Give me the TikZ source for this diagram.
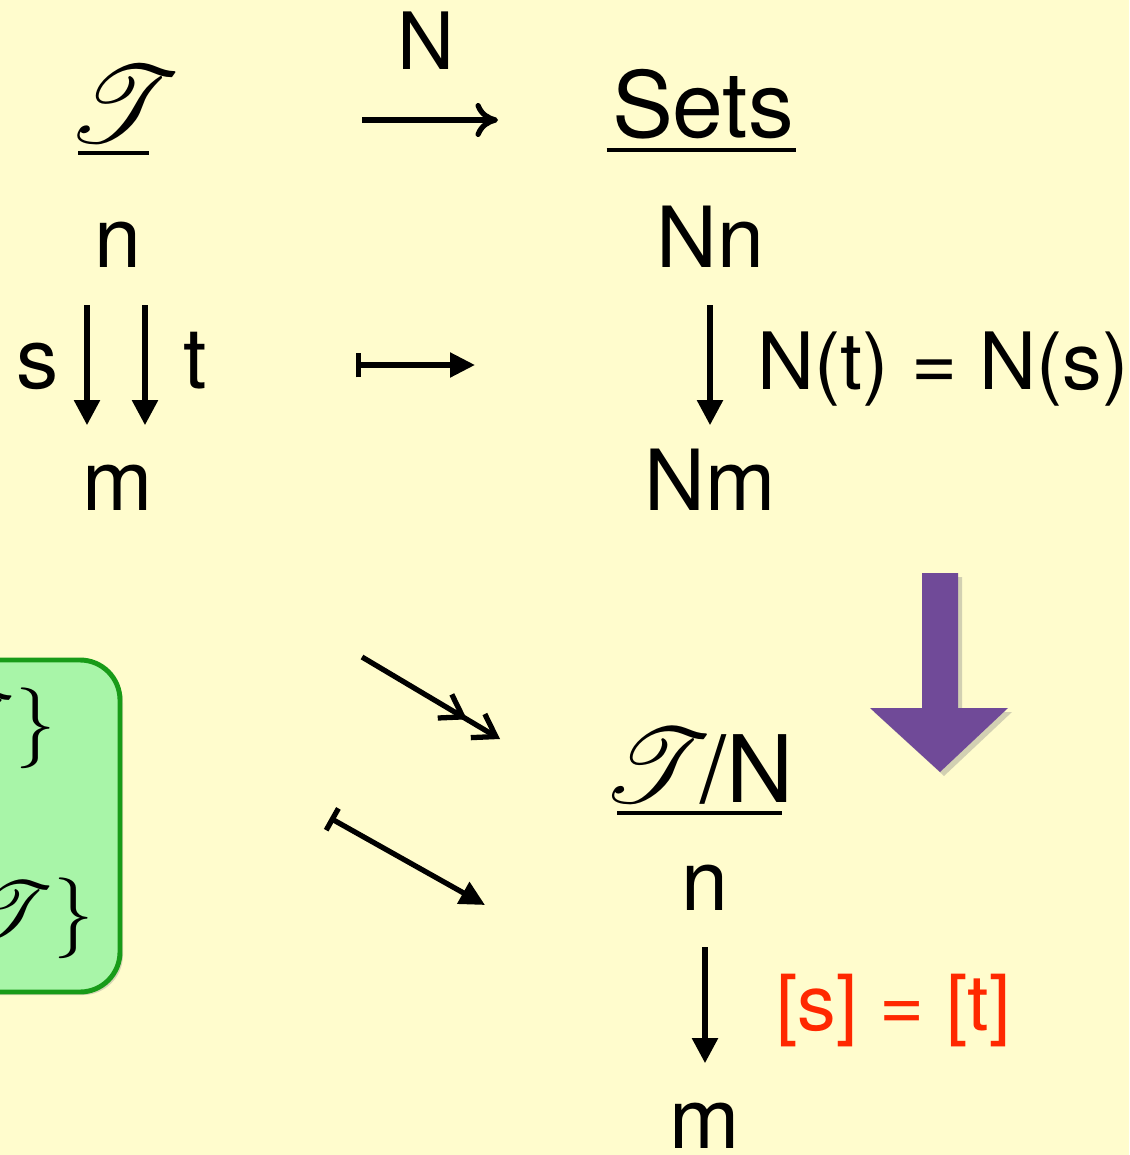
\RequirePackage{fix-cm}
\documentclass[tikz,border=0pt]{standalone}
\usepackage{fontspec}
\setmainfont{TeX Gyre Heros}
\usepackage{mathrsfs}
\DeclareFontFamily{U}{rsfs}{\skewchar\font127 }
\DeclareFontShape{U}{rsfs}{m}{n}{<-6> rsfs5 <6-8> rsfs7 <8-> rsfs10}{}
\usetikzlibrary{arrows.meta, positioning, calc, shadows}

\definecolor{slidebg}{RGB}{255,252,205}
\definecolor{boxfill}{RGB}{168,245,168}
\definecolor{boxline}{RGB}{24,155,24}
\definecolor{quotpurple}{RGB}{112,74,152}
\definecolor{eqred}{RGB}{255,40,0}

\newcommand{\slidefont}{\fontsize{48}{56}\selectfont}
\newcommand{\catfont}{\fontsize{62}{66}\selectfont}

\begin{document}
\begin{tikzpicture}[x=0.02cm, y=-0.02cm,
  obj/.style={font=\slidefont, inner sep=0pt, text height=35pt, text depth=0pt, anchor=base},
  lbl/.style={font=\slidefont, inner sep=0pt, anchor=base},
  cat/.style={font=\catfont, inner sep=0pt, anchor=base},
  boxtxt/.style={font=\fontsize{46}{50}\selectfont, inner sep=0pt, anchor=base east},
  uline/.style={line width=2.4pt},
  mor/.style={line width=3pt, -{Triangle[length=0.5cm, width=0.5cm]},
              shorten <=0.74cm, shorten >=0.46cm},
  fun/.style={line width=3pt, -{Computer Modern Rightarrow[length=0.45cm, width=0.68cm]}},
  mapsarr/.style={line width=3pt, {Bar[width=0.5cm]}-{Triangle[length=0.5cm, width=0.48cm]}},
  epi/.style={line width=3pt,
              -{Straight Barb[length=0.42cm, width=0.55cm, sep=0.2cm]
                Straight Barb[length=0.42cm, width=0.55cm]}},
  greenbox/.style={fill=boxfill, draw=boxline, line width=2.8pt, rounded corners=0.8cm,
                   drop shadow={shadow xshift=0.06cm, shadow yshift=-0.06cm, opacity=0.3}}]

  % slide area
  \useasboundingbox (0,0) rectangle (1129,1155);
  \clip (0,0) rectangle (1129,1155);
  \fill[slidebg] (0,0) rectangle (1129,1155);

  % top row: the functor
  \node[cat] (catT) at (124,143) {$\mathscr{T}$};
  \draw[uline] (78,153) -- (149,153);
  \node[lbl, font=\fontsize{52}{60}\selectfont] (sets) at (703,138) {Sets};
  \draw[uline] ([yshift=-0.24cm, xshift=-0.1cm]sets.base west) -- ([yshift=-0.24cm, xshift=0.04cm]sets.base east);
  \coordinate (fsrc) at (362,120);
  \coordinate (ftgt) at (498,120);
  \draw[fun] (fsrc) -- (ftgt);
  \node[lbl, font=\fontsize{45}{50}\selectfont] (fname) at (426,70) {N};

  % parallel pair in T
  \node[obj] (n1) at (118,268) {n};
  \node[obj] (m1) at (118,510) {m};
  \draw[mor] ([xshift=-0.62cm]n1.south) -- ([xshift=-0.62cm]m1.north);
  \draw[mor] ([xshift=0.54cm]n1.south) -- ([xshift=0.54cm]m1.north);
  \node[lbl] (slab) at (38,388) {s};
  \node[lbl] (tlab) at (195,388) {t};

  % image in Sets
  \coordinate (ha) at (356,365);
  \coordinate (hb) at (475,365);
  \draw[mapsarr] (ha) -- (hb);
  \node[obj] (Nn) at (710,268) {Nn};
  \node[obj] (Nm) at (710,510) {Nm};
  \draw[mor] (Nn.south) -- (Nm.north);
  \node[lbl, anchor=base west, font=\fontsize{45}{50}\selectfont] (eqN) at (757,389) {N(t) = N(s)};

  % quotient
  \fill[quotpurple, drop shadow={shadow xshift=0.08cm, shadow yshift=-0.08cm, opacity=0.35}]
    (922,573) -- (958,573) -- (958,708) -- (1008,708) -- (940,772)
    -- (870,708) -- (922,708) -- cycle;

  \draw[greenbox] (-80,660) rectangle (120,992);
  \node[boxtxt] (setA) at (56,748) {$\mathscr{T}\}$};
  \node[boxtxt] (setB) at (94,938) {$\mathscr{T}\}$};

  \coordinate (qa) at (362,657);
  \coordinate (qb) at (500,739);
  \draw[epi] (qa) -- (qb);
  \coordinate (ma) at (330,818);
  \coordinate (mb) at (485,905);
  \draw[mapsarr] (ma) -- (mb);

  \node[lbl, font=\fontsize{53}{60}\selectfont] (quot) at (698,802)
    {{\fontsize{60}{64}\selectfont$\mathscr{T}$}\kern-0.12em/N};
  \draw[uline] (617,813) -- (782,813);
  \node[obj] (n2) at (705,910) {n};
  \node[obj] (m2) at (705,1148) {m};
  \draw[mor] (n2.south) -- (m2.north);
  \node[lbl, anchor=base west, text=eqred, font=\fontsize{44}{50}\selectfont] (eqq) at (776,1030) {[s] = [t]};
\end{tikzpicture}
\end{document}
